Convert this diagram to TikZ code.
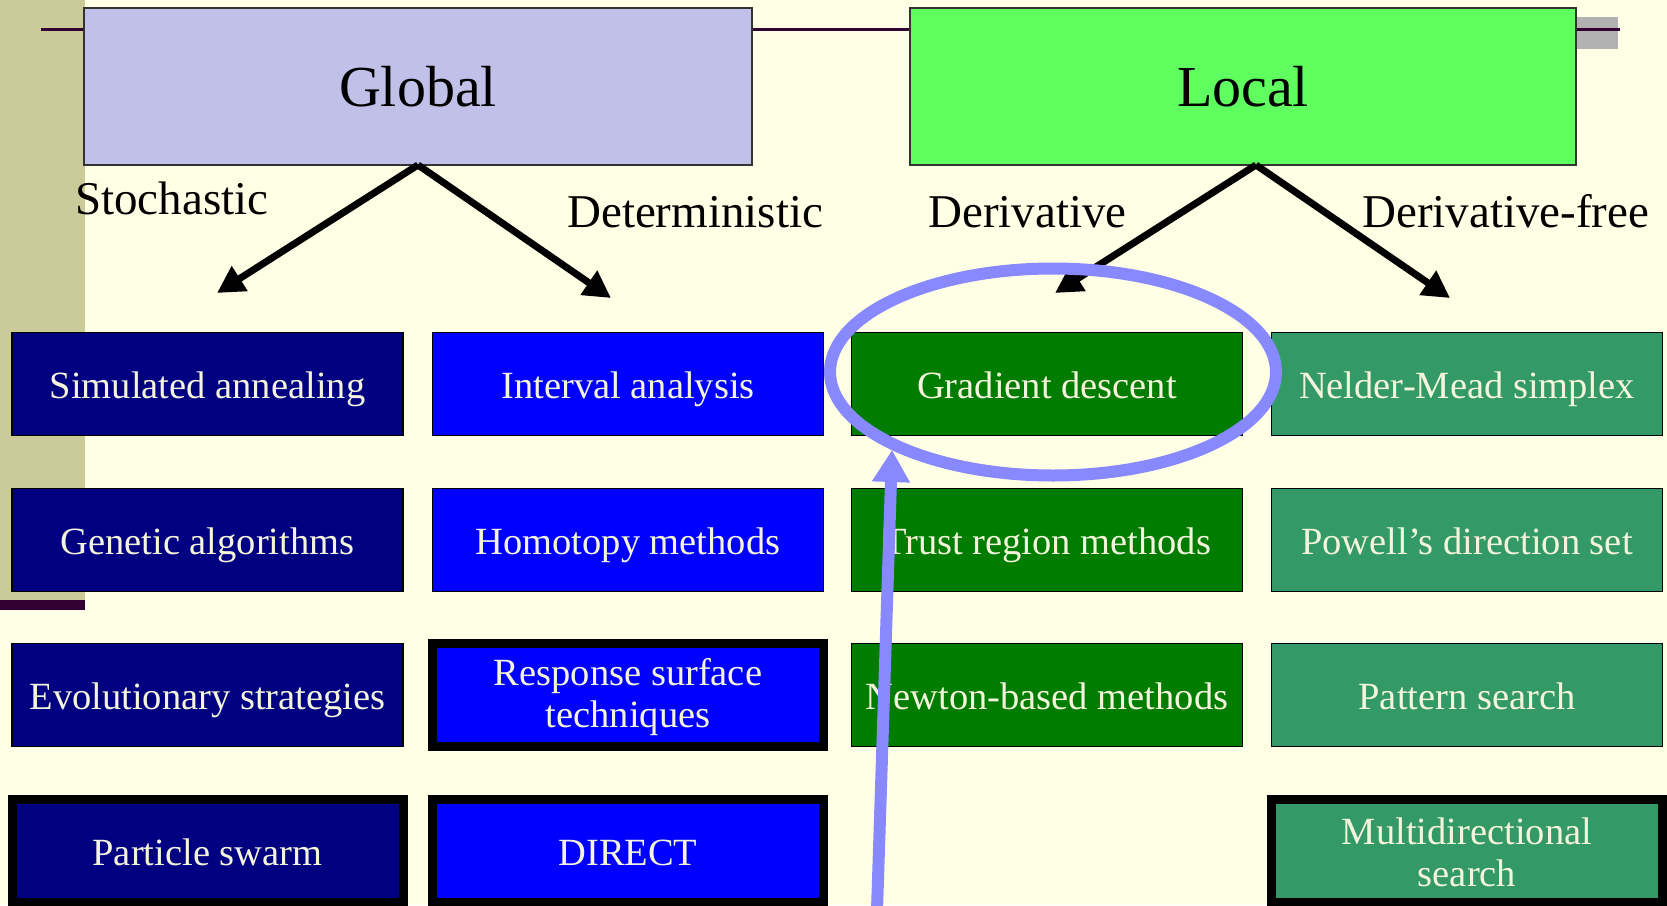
\documentclass[tikz,border=0pt]{standalone}
\usepackage{fontspec}
\setmainfont{Liberation Serif}
\usetikzlibrary{shapes.geometric,arrows.meta}
\definecolor{bg}{HTML}{FFFFE5}
\definecolor{tan}{HTML}{CBCB99}
\definecolor{plum}{HTML}{330033}
\definecolor{greybar}{HTML}{B2B2B2}
\definecolor{lavender}{HTML}{C0C0E8}
\definecolor{lime}{HTML}{60FF60}
\definecolor{navy}{HTML}{000080}
\definecolor{pureblue}{HTML}{0000FF}
\definecolor{darkgreen}{HTML}{007C00}
\definecolor{seagreen}{HTML}{339966}
\definecolor{txt}{HTML}{F4F4DC}
\definecolor{hilite}{HTML}{8888FF}
\begin{document}
\begin{tikzpicture}[x=1pt,y=-1pt,
  head/.style={draw=black!80, line width=1.5pt, inner sep=0pt, minimum height=157pt,
    text height=40pt, text depth=0pt, font=\fontsize{58}{60}\selectfont},
  method/.style={draw=black, line width=1.5pt, minimum width=391pt, minimum height=103pt,
    inner sep=0pt, text=txt, align=center, font=\fontsize{38.5}{41.5}\selectfont},
  heavy/.style={method, line width=9pt},
  oneline/.style={text height=29pt, text depth=0pt},
  branch/.style={font=\fontsize{47}{50}\selectfont, anchor=base west, inner sep=0pt},
  split/.style={draw=black, line width=7pt, -{Triangle[length=27pt,width=28pt]}},
  pointer/.style={draw=hilite, line width=12pt, -{Triangle[length=32pt,width=36pt]}}
]
\useasboundingbox (0,0) rectangle (1667,905);
\fill[bg] (0,0) rectangle (1667,905);
\fill[tan] (0,0) rectangle (85,600);
\fill[plum] (0,600) rectangle (85,610);
\fill[greybar] (1576,17) rectangle (1618,49);
\draw[plum, line width=3pt] (41,29) -- (1620,29);

\node[head, fill=lavender, minimum width=668pt] (global) at (418,86.5) {Global};
\node[head, fill=lime, minimum width=666pt] (local) at (1243,86.5) {Local};

\node[branch] (stoch) at (75,214) {Stochastic};
\node[branch] (determ) at (567,227) {Deterministic};
\node[branch] (deriv) at (928,227) {Derivative};
\node[branch] (dfree) at (1362,227) {Derivative-free};

\coordinate (gs) at (418,165);
\coordinate (ls) at (1256,165);
\coordinate (t1) at (217,293);
\coordinate (t2) at (611,298);
\coordinate (t3) at (1055,293);
\coordinate (t4) at (1450,298);
\draw[split] (gs) -- (t1);
\draw[split] (gs) -- (t2);
\draw[split] (ls) -- (t3);
\draw[split] (ls) -- (t4);

\node[method, oneline, fill=navy] (sa) at (207.5,384) {Simulated annealing};
\node[method, oneline, fill=navy] (ga) at (207.5,540) {Genetic algorithms};
\node[method, oneline, fill=navy] (es) at (207.5,695) {Evolutionary strategies};
\node[heavy, oneline, fill=navy] (pso) at (207.5,851) {Particle swarm};

\node[method, oneline, fill=pureblue] (ia) at (628,384) {Interval analysis};
\node[method, oneline, fill=pureblue] (hm) at (628,540) {Homotopy methods};
\node[heavy, fill=pureblue] (rs) at (628,695) {\rule{0pt}{31pt}Response surface\\techniques};
\node[heavy, oneline, fill=pureblue] (direct) at (628,851) {DIRECT};

\node[method, oneline, fill=darkgreen] (gd) at (1047,384) {Gradient descent};
\node[method, oneline, fill=darkgreen] (tr) at (1047,540) {Trust region methods};
\node[method, oneline, fill=darkgreen] (nb) at (1047,695) {Newton-based methods};

\node[method, oneline, fill=seagreen] (nm) at (1467,384) {Nelder-Mead simplex};
\node[method, oneline, fill=seagreen] (pd) at (1467,540) {Powell’s direction set};
\node[method, oneline, fill=seagreen] (pat) at (1467,695) {Pattern search};
\node[heavy, fill=seagreen] (md) at (1467,851) {\rule{0pt}{29pt}Multidirectional\\search};

\node[ellipse, draw=hilite, line width=12pt, minimum width=446pt, minimum height=207pt, inner sep=0pt] (hl) at (1053,372) {};
\coordinate (pfoot) at (877,910);
\coordinate (ptip) at (892,450);
\draw[pointer] (pfoot) -- (ptip);
\end{tikzpicture}
\end{document}
